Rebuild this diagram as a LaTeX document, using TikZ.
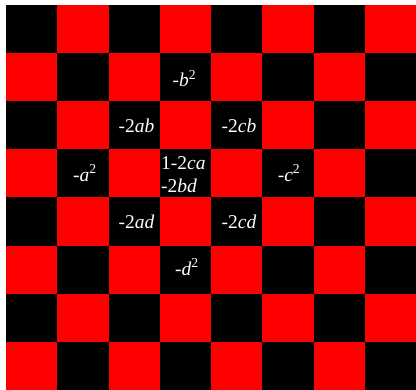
\documentclass[tikz,border=0pt]{standalone}
\usepackage{fontspec}
\setmainfont{Liberation Serif}
\definecolor{boardred}{RGB}{255,0,0}
\begin{document}
\begin{tikzpicture}[x=1pt,y=1pt,
  lbl/.style={text=white,font=\fontsize{19.5}{23.5}\selectfont,inner sep=0pt}]
\useasboundingbox (0,0) rectangle (416,390);
\fill[white] (0,0) rectangle (416,390);
\fill[boardred] (6,0) rectangle (416,385);
\foreach \r in {0,...,7}{
  \foreach \c in {0,...,7}{
    \pgfmathtruncatemacro\p{mod(\r+\c,2)}
    \ifnum\p=0
      \fill[black] (6+\c*51.25,385-\r*48.125) rectangle ++(51.25,-48.125);
    \fi
  }
}
\node[lbl] (b2)  at (184.5,311.5) {-\textit{b}\textsuperscript{2}};
\node[lbl] (ab)  at (136.5,264.5) {-2\textit{ab}};
\node[lbl] (cb)  at (239,264.5) {-2\textit{cb}};
\node[lbl] (a2)  at (85,217) {-\textit{a}\textsuperscript{2}};
\node[lbl,anchor=west,align=left] (mid) at (161,215.5) {1-2\textit{ca}\\-2\textit{bd}};
\node[lbl] (c2)  at (289,217) {-\textit{c}\textsuperscript{2}};
\node[lbl] (ad)  at (136.5,168.5) {-2\textit{ad}};
\node[lbl] (cd)  at (239,168.5) {-2\textit{cd}};
\node[lbl] (d2)  at (187,123) {-\textit{d}\textsuperscript{2}};
\end{tikzpicture}
\end{document}
